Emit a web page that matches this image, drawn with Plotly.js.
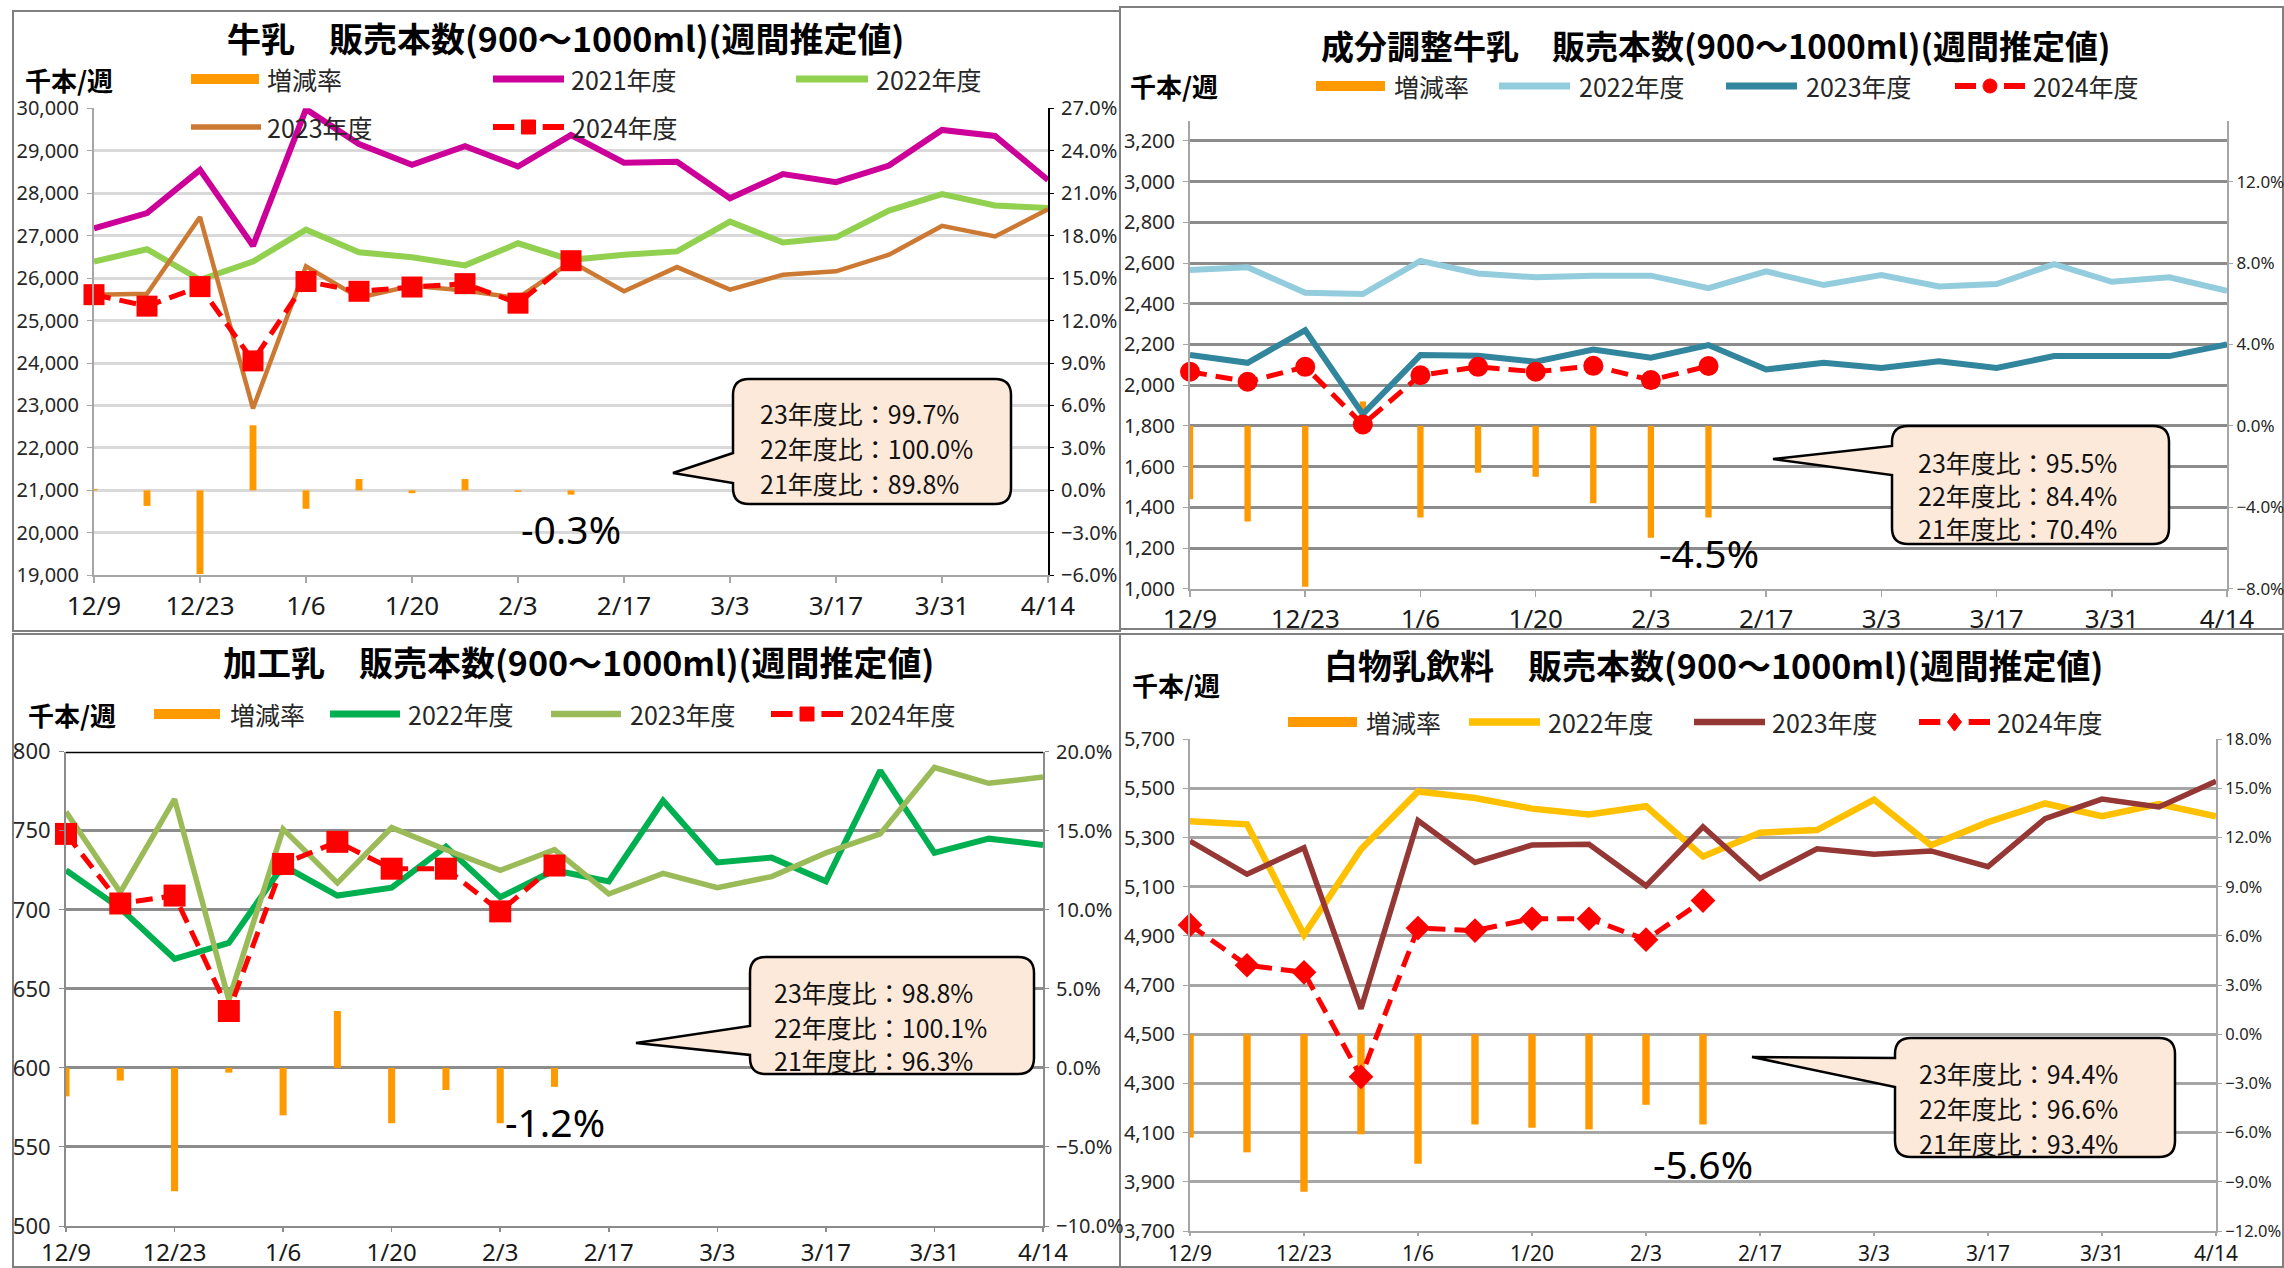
<!DOCTYPE html>
<html><head><meta charset="utf-8">
<script src="https://cdn.plot.ly/plotly-3.0.1.min.js"></script>
<style>html,body{margin:0;padding:0;background:#fff;overflow:hidden}#chart{width:2284px;height:1268px}</style>
</head><body><div id="chart"></div>
<script>
// ---------------- data ----------------
const weeks = ['12/9','12/16','12/23','12/30','1/6','1/13','1/20','1/27','2/3','2/10','2/17','2/24','3/3','3/10','3/17','3/24','3/31','4/7','4/14'];
const tickWeeks = ['12/9','12/23','1/6','1/20','2/3','2/17','3/3','3/17','3/31','4/14'];
const weeks2024 = weeks.slice(0, 10);

// 牛乳
const milk2021 = [27170,27530,28550,26760,29980,29160,28670,29110,28630,29370,28720,28740,27880,28450,28260,28650,29490,29350,28310];
const milk2022 = [26390,26680,25960,26390,27140,26610,26490,26300,26820,26430,26550,26630,27330,26840,26960,27590,27980,27710,27650];
const milk2023 = [25610,25630,27440,22930,26280,25540,25820,25710,25530,26390,25690,26260,25730,26080,26160,26550,27230,26980,27620];
const milk2024 = [25610,25340,25800,24050,25920,25690,25790,25870,25410,26410];
const milkRate = [0.1,-1.1,-5.9,4.6,-1.3,0.8,-0.2,0.8,-0.1,-0.3];
const milkRatios = ['23年度比：99.7%','22年度比：100.0%','21年度比：89.8%'];
const milkLatest = '-0.3%';

// 成分調整牛乳
const adj2022 = [2566,2579,2454,2448,2611,2549,2530,2538,2538,2477,2559,2492,2541,2485,2497,2595,2508,2530,2464];
const adj2023 = [2148,2110,2270,1858,2148,2144,2115,2175,2135,2197,2077,2110,2085,2118,2085,2143,2143,2143,2200];
const adj2024 = [2066,2017,2090,1807,2049,2090,2066,2095,2025,2094];
const adjRate = [-3.6,-4.7,-7.9,1.2,-4.5,-2.3,-2.5,-3.8,-5.5,-4.5];
const adjRatios = ['23年度比：95.5%','22年度比：84.4%','21年度比：70.4%'];
const adjLatest = '-4.5%';

// 加工乳
const proc2022 = [725,701,669,679,728,709,714,740,708,725,718,769,730,733,718,788,736,745,741];
const proc2023 = [762,711,770,643,751,717,752,738,725,738,710,723,714,721,736,748,790,780,784];
const proc2024 = [748,704,709,636,729,743,726,726,699,728];
const procRate = [-1.8,-0.8,-7.8,-0.3,-3.0,3.6,-3.5,-1.4,-3.5,-1.2];
const procRatios = ['23年度比：98.8%','22年度比：100.1%','21年度比：96.3%'];
const procLatest = '-1.2%';

// 白物乳飲料
const white2022 = [5367,5354,4905,5253,5488,5461,5418,5394,5428,5223,5320,5331,5455,5269,5363,5439,5387,5437,5387];
const white2023 = [5286,5151,5259,4604,5370,5199,5270,5273,5104,5344,5134,5255,5232,5246,5182,5377,5457,5425,5529];
const white2024 = [4945,4781,4752,4327,4932,4922,4970,4970,4885,5044];
const whiteRate = [-6.3,-7.2,-9.6,-6.1,-7.9,-5.5,-5.7,-5.8,-4.3,-5.5];
const whiteRatios = ['23年度比：94.4%','22年度比：96.6%','21年度比：93.4%'];
const whiteLatest = '-5.6%';

const titles = ['牛乳　販売本数(900～1000ml)(週間推定値)','成分調整牛乳　販売本数(900～1000ml)(週間推定値)','加工乳　販売本数(900～1000ml)(週間推定値)','白物乳飲料　販売本数(900～1000ml)(週間推定値)'];
const unitLabel = '千本/週';
const rateName = '増減率';

// ---------------- layout helpers ----------------
const W = 2284, H = 1268;
const px = x => x / W;
const py = y => 1 - y / H;
const FONT = 'Noto Sans, Noto Sans CJK JP, sans-serif';
const JFONT = 'Noto Sans CJK JP, Noto Sans, sans-serif';
const ORANGE = '#ff9900', RED = '#ff0000';

const panels = [
  {n:1, L:94, R:1048, T:108.3, B:575.3, vRange:[19000,30000], vD:1000, pRange:[-6,27], pD:3,
   grid:'#d9d9d9', axis:'#a6a6a6', right:'#000000', barW:0.13, rate:milkRate, rFont:20, xFont:26, xLen:6,
   series:[{name:'2021年度', y:milk2021, color:'#cc0099', w:6},{name:'2022年度', y:milk2022, color:'#92d050', w:6},{name:'2023年度', y:milk2023, color:'#cc7a33', w:4.5}],
   y24:milk2024, sym:'square', msize:21,
   title:titles[0], titleX:565, titleY:37, titleSize:34, unitX:24, unitY:79,
   legend:[{k:'rect',x0:191,x1:259,y:79,tx:266,c:ORANGE,t:rateName},{k:'line',x0:493,x1:564,y:79,tx:570,i:0},{k:'line',x0:796,x1:868,y:79,tx:875,i:1},{k:'line',x0:191,x1:261,y:127,tx:266,i:2},{k:'dash',x0:493,x1:564,y:127,tx:571}],
   box:[733,379,1011,504], tail:[453,[673,473],483], tx:759, ty:[413,448,483], ratios:milkRatios,
   latest:milkLatest, latX:571, latY:528, latAnchor:'center'},
  {n:2, L:1190, R:2227, T:120.6, B:588.7, vRange:[1000,3300], vD:200, pRange:[-8,15], pD:4,
   grid:'#8c8c8c', axis:'#a6a6a6', right:'#a6a6a6', barW:0.11, rate:adjRate, rFont:17, xFont:26, xLen:6,
   series:[{name:'2022年度', y:adj2022, color:'#93cddd', w:6},{name:'2023年度', y:adj2023, color:'#31859c', w:6}],
   y24:adj2024, sym:'circle', msize:20,
   title:titles[1], titleX:1715, titleY:45, titleSize:33, unitX:1129, unitY:85,
   legend:[{k:'rect',x0:1316,x1:1385,y:86,tx:1393,c:ORANGE,t:rateName},{k:'line',x0:1499,x1:1570,y:86,tx:1578,i:0},{k:'line',x0:1726,x1:1797,y:86,tx:1805,i:1},{k:'dash',x0:1955,x1:2025,y:86,tx:2032}],
   box:[1892,426,2169,544], tail:[446,[1773,459],475], tx:1917, ty:[462,495,528], ratios:adjRatios,
   latest:adjLatest, latX:1709, latY:552, latAnchor:'center'},
  {n:3, L:66, R:1043, T:751.7, B:1226, vRange:[500,800], vD:50, pRange:[-10,20], pD:5,
   grid:'#8c8c8c', axis:'#8c8c8c', right:'#8c8c8c', barW:0.13, rate:procRate, rFont:20, xFont:24, xLen:4,
   series:[{name:'2022年度', y:proc2022, color:'#00b050', w:6},{name:'2023年度', y:proc2023, color:'#9bbb59', w:5.5}],
   y24:proc2024, sym:'square', msize:22,
   title:titles[2], titleX:578, titleY:661, titleSize:34, unitX:27, unitY:714,
   legend:[{k:'rect',x0:154,x1:220,y:714,tx:229,c:ORANGE,t:rateName},{k:'line',x0:330,x1:400,y:714,tx:407,i:0},{k:'line',x0:551,x1:621,y:714,tx:629,i:1},{k:'dash',x0:771,x1:843,y:714,tx:849}],
   box:[750,957,1034,1074], tail:[1026,[636,1043],1055], tx:773, ty:[992,1027,1060], ratios:procRatios,
   latest:procLatest, latX:504, latY:1121, latAnchor:'left', topBlack:true},
  {n:4, L:1190, R:2216, T:739.3, B:1231, vRange:[3700,5700], vD:200, pRange:[-12,18], pD:3,
   grid:'#a6a6a6', axis:'#a6a6a6', right:'#a6a6a6', barW:0.13, rate:whiteRate, rFont:16.5, xFont:21, xLen:3,
   series:[{name:'2022年度', y:white2022, color:'#ffc000', w:6.5},{name:'2023年度', y:white2023, color:'#953735', w:5.5}],
   y24:white2024, sym:'diamond', msize:19,
   title:titles[3], titleX:1713, titleY:664, titleSize:34, unitX:1131, unitY:684,
   legend:[{k:'rect',x0:1288,x1:1357,y:722,tx:1365,c:ORANGE,t:rateName},{k:'line',x0:1469,x1:1540,y:722,tx:1547,i:0},{k:'line',x0:1694,x1:1765,y:722,tx:1771,i:1},{k:'dash',x0:1919,x1:1990,y:722,tx:1996}],
   box:[1895,1038,2175,1157], tail:[1058,[1752,1057],1087], tx:1918, ty:[1073,1108,1143], ratios:whiteRatios,
   latest:whiteLatest, latX:1703, latY:1163, latAnchor:'center'}
];

const traces = [];
const layout = {
  width: W, height: H, autosize: false,
  margin: {l:0, r:0, t:0, b:0, pad:0},
  paper_bgcolor: '#ffffff', plot_bgcolor: 'rgba(0,0,0,0)',
  showlegend: false,
  font: {family: FONT, color: '#262626'},
  shapes: [], annotations: []
};

// panel frames
[[13,11,1120,631],[1120,7,2283,629],[13,634,1120,1267],[1120,634,2283,1267]].forEach(r => {
  layout.shapes.push({type:'rect', xref:'paper', yref:'paper', x0:px(r[0]), x1:px(r[2]), y0:py(r[1]), y1:py(r[3]),
    line:{color:'#808080', width:2}, fillcolor:'rgba(0,0,0,0)', layer:'below'});
});

function ann(text, x, y, size, opts) {
  layout.annotations.push(Object.assign({xref:'paper', yref:'paper', x:px(x), y:py(y), text:text, showarrow:false,
    xanchor:'left', yanchor:'middle', borderpad:0, font:{family:JFONT, size:size, color:'#000'}}, opts || {}));
}

function markerShape(sym, cx, cy, s) {
  const h = s / 2;
  if (sym === 'circle') return {type:'circle', xref:'paper', yref:'paper', x0:px(cx-h), x1:px(cx+h), y0:py(cy+h), y1:py(cy-h), fillcolor:RED, line:{color:RED, width:1}};
  if (sym === 'square') return {type:'rect', xref:'paper', yref:'paper', x0:px(cx-h), x1:px(cx+h), y0:py(cy+h), y1:py(cy-h), fillcolor:RED, line:{color:RED, width:1}};
  return {type:'path', xref:'paper', yref:'paper', path:`M${px(cx)},${py(cy-h-2)} L${px(cx+h)},${py(cy)} L${px(cx)},${py(cy+h+2)} L${px(cx-h)},${py(cy)} Z`, fillcolor:RED, line:{color:RED, width:1}};
}

panels.forEach(p => {
  const xk = p.n === 1 ? 'x' : 'x' + p.n;
  const pk = p.n === 1 ? 'y' : 'y' + (2*p.n - 1);
  const vk = 'y' + (2*p.n);
  const xName = 'xaxis' + (p.n === 1 ? '' : p.n);
  const pName = 'yaxis' + (p.n === 1 ? '' : (2*p.n - 1));
  const vName = 'yaxis' + (2*p.n);

  layout[xName] = {
    type:'category', domain:[px(p.L), px(p.R)], anchor:pk, range:[0, weeks.length-1],
    tickmode:'array', tickvals:tickWeeks, showgrid:false, zeroline:false,
    showline:true, linecolor:p.axis, linewidth:2, ticks:'outside', ticklen:p.xLen, tickcolor:p.axis, tickwidth:1.5,
    tickfont:{size:p.xFont, color:'#1a1a1a', family:FONT}, fixedrange:true
  };
  layout[pName] = {
    domain:[py(p.B), py(p.T)], anchor:xk, side:'right', range:p.pRange, tick0:p.pRange[0], dtick:p.pD,
    ticksuffix:'%', tickformat:'.1f', showgrid:false, zeroline:false,
    showline:true, linecolor:p.right, linewidth:2, ticks:'outside', ticklen:4, tickcolor:p.right,
    tickfont:{size:p.rFont, color:'#262626', family:FONT}, ticklabelstandoff:p.rFont < 20 ? 0 : 3, fixedrange:true
  };
  layout[vName] = {
    overlaying:pk, anchor:xk, side:'left', range:p.vRange, tick0:p.vRange[0], dtick:p.vD, tickformat:',d',
    showgrid:true, gridcolor:p.grid, gridwidth:3, zeroline:false,
    showline:true, linecolor:p.axis, linewidth:2, ticks:'outside', ticklen:5, tickcolor:p.axis,
    tickfont:{size:p.n === 3 ? 22 : 20, color:'#262626', family:FONT}, ticklabelstandoff:4, fixedrange:true
  };

  // bars (rate) on the base (right) axis so the lines overlay them
  traces.push({type:'bar', name:rateName, x:weeks2024, y:p.rate, xaxis:xk, yaxis:pk,
    marker:{color:ORANGE, line:{width:0}}, width:p.barW, hoverinfo:'skip'});
  p.series.forEach(s => {
    traces.push({type:'scatter', mode:'lines', name:s.name, x:weeks, y:s.y, xaxis:xk, yaxis:vk,
      line:{color:s.color, width:s.w, shape:'linear'}, cliponaxis:false, hoverinfo:'skip'});
  });
  traces.push({type:'scatter', mode:'lines+markers', name:'2024年度', x:weeks2024, y:p.y24, xaxis:xk, yaxis:vk,
    line:{color:RED, width:5, dash:'17px,9px'}, marker:{symbol:p.sym, size:p.msize, color:RED, line:{width:0}},
    cliponaxis:false, hoverinfo:'skip'});

  if (p.topBlack) {
    layout.shapes.push({type:'line', xref:xk + ' domain', yref:vk, x0:0, x1:1, y0:p.vRange[1], y1:p.vRange[1], line:{color:'#000', width:3}});
  }

  // title, unit
  ann('<b>' + p.title + '</b>', p.titleX, p.titleY, p.titleSize, {xanchor:'center'});
  ann('<b>' + unitLabel + '</b>', p.unitX, p.unitY, 26);

  // custom legend
  p.legend.forEach(it => {
    let label;
    if (it.k === 'rect') {
      layout.shapes.push({type:'rect', xref:'paper', yref:'paper', x0:px(it.x0), x1:px(it.x1), y0:py(it.y+5), y1:py(it.y-5), fillcolor:it.c, line:{width:0}});
      label = it.t;
    } else if (it.k === 'line') {
      const s = p.series[it.i];
      layout.shapes.push({type:'line', xref:'paper', yref:'paper', x0:px(it.x0), x1:px(it.x1), y0:py(it.y), y1:py(it.y), line:{color:s.color, width:s.w + 1}});
      label = s.name;
    } else {
      const seg = (it.x1 - it.x0);
      layout.shapes.push({type:'line', xref:'paper', yref:'paper', x0:px(it.x0), x1:px(it.x0 + seg*0.3), y0:py(it.y), y1:py(it.y), line:{color:RED, width:6}});
      layout.shapes.push({type:'line', xref:'paper', yref:'paper', x0:px(it.x1 - seg*0.3), x1:px(it.x1), y0:py(it.y), y1:py(it.y), line:{color:RED, width:6}});
      layout.shapes.push(markerShape(p.sym, (it.x0 + it.x1)/2, it.y, 14));
      label = '2024年度';
    }
    ann(label, it.tx, it.y, 25, {font:{family:JFONT, size:25, color:'#262626'}});
  });

  // callout
  const [L,T,R,B] = p.box; const r = 16;
  const t1 = p.tail[0], tip = p.tail[1], t2 = p.tail[2];
  const path = `M${px(L+r)},${py(T)} L${px(R-r)},${py(T)} Q${px(R)},${py(T)} ${px(R)},${py(T+r)} ` +
    `L${px(R)},${py(B-r)} Q${px(R)},${py(B)} ${px(R-r)},${py(B)} L${px(L+r)},${py(B)} Q${px(L)},${py(B)} ${px(L)},${py(B-r)} ` +
    `L${px(L)},${py(t2)} L${px(tip[0])},${py(tip[1])} L${px(L)},${py(t1)} L${px(L)},${py(T+r)} Q${px(L)},${py(T)} ${px(L+r)},${py(T)} Z`;
  layout.shapes.push({type:'path', xref:'paper', yref:'paper', path:path, fillcolor:'#fde9d9', line:{color:'#000', width:2.5}, layer:'above'});
  p.ratios.forEach((t, i) => ann(t, p.tx, p.ty[i], 25, {font:{family:JFONT, size:25, color:'#111'}}));

  // latest rate label
  ann(p.latest, p.latX, p.latY, 39, {xanchor:p.latAnchor, font:{family:FONT, size:39, color:'#000'}});
});

Plotly.newPlot('chart', traces, layout, {displayModeBar:false, staticPlot:true});
</script>
</body></html>
